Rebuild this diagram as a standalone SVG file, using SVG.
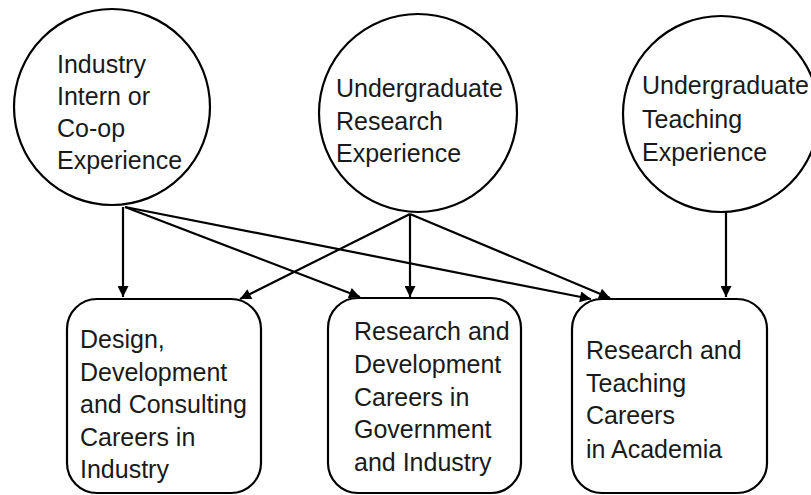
<svg xmlns="http://www.w3.org/2000/svg" width="811" height="495" viewBox="0 0 811 495">
<defs>
<style>
.node circle, .node rect { fill: #fff; stroke: #000; stroke-width: 2.2; }
.node text { font-family: "Liberation Sans", Arial, sans-serif; font-size: 25px; fill: #1a1a1a; }
.conn line { stroke: #000; stroke-width: 2.2; fill: none; marker-end: url(#ah); }
</style>
<marker id="ah" viewBox="0 0 10 10" refX="10" refY="5" markerWidth="8" markerHeight="5" markerUnits="strokeWidth" orient="auto">
<path d="M0,0 L10,5 L0,10 z" fill="#000"/>
</marker>
</defs>
<rect width="811" height="495" fill="#fff"/>
<g class="conn">
<line x1="123" y1="207" x2="123" y2="297"/>
<line x1="125" y1="207" x2="360" y2="297"/>
<line x1="125" y1="207" x2="591" y2="299"/>
<line x1="410" y1="214" x2="240" y2="299"/>
<line x1="410" y1="214" x2="410" y2="297"/>
<line x1="410" y1="214" x2="610" y2="298"/>
<line x1="726" y1="212" x2="726" y2="297"/>
</g>
<g id="n1" class="node">
<circle cx="112" cy="107" r="98"/>
<text x="57" y="73">Industry</text>
<text x="57" y="105">Intern or</text>
<text x="57" y="137">Co-op</text>
<text x="57" y="169">Experience</text>
</g>
<g id="n2" class="node">
<circle cx="418" cy="113" r="99"/>
<text x="336" y="97">Undergraduate</text>
<text x="336" y="130">Research</text>
<text x="336" y="162">Experience</text>
</g>
<g id="n3" class="node">
<circle cx="721" cy="114" r="98"/>
<text x="642" y="94">Undergraduate</text>
<text x="642" y="128">Teaching</text>
<text x="642" y="161">Experience</text>
</g>
<g id="b1" class="node">
<rect x="67" y="299" width="194" height="194" rx="30" ry="30"/>
<text x="80" y="348">Design,</text>
<text x="80" y="381">Development</text>
<text x="80" y="413">and Consulting</text>
<text x="80" y="446">Careers in</text>
<text x="80" y="478">Industry</text>
</g>
<g id="b2" class="node">
<rect x="328" y="298" width="193" height="195" rx="30" ry="30"/>
<text x="354" y="340">Research and</text>
<text x="354" y="373">Development</text>
<text x="354" y="406">Careers in</text>
<text x="354" y="438">Government</text>
<text x="354" y="471">and Industry</text>
</g>
<g id="b3" class="node">
<rect x="572" y="299" width="195" height="194" rx="30" ry="30"/>
<text x="586" y="359">Research and</text>
<text x="586" y="392">Teaching</text>
<text x="586" y="424">Careers</text>
<text x="586" y="458">in Academia</text>
</g>
</svg>
